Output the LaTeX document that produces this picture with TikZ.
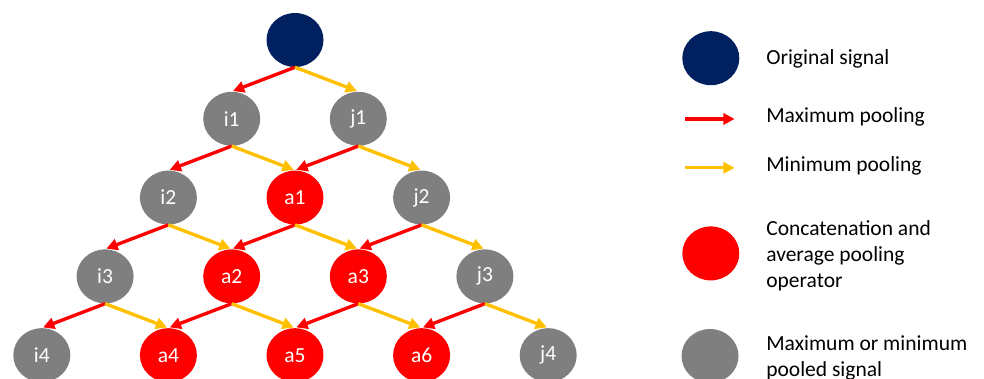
\documentclass[tikz,border=0pt]{standalone}
\usepackage{fontspec}
\setmainfont{Carlito}
\usetikzlibrary{shapes.geometric,arrows.meta}
\definecolor{navy}{HTML}{002060}
\definecolor{gold}{HTML}{FFC000}
\definecolor{midgrey}{HTML}{7F7F7F}
\begin{document}
\begin{tikzpicture}[scale=1,
  every node/.style={font=\fontsize{15.3}{18.5}\selectfont},
  sig/.style={ellipse,minimum width=1.425cm,minimum height=1.35cm,inner sep=0pt,text=white},
  orig/.style={sig,fill=navy},
  pooled/.style={sig,fill=midgrey},
  avg/.style={sig,fill=red},
  maxp/.style={->,red,line width=2.4pt,shorten >=1pt},
  minp/.style={->,gold,line width=2.4pt,shorten >=1pt},
  legtext/.style={anchor=base west,align=left,inner sep=0pt},
  >={Triangle[length=8pt,width=8pt]}]
\useasboundingbox (0,0) rectangle (24.6,9.475);
% tree of pooled signals
\node[orig] (o) at (7.375,8.475) {};
\node[pooled] (i1) at (5.7925,6.505) {i1};
\node[pooled] (j1) at (8.9575,6.505) {j1};
\node[pooled] (i2) at (4.21,4.535) {i2};
\node[avg] (a1) at (7.375,4.535) {a1};
\node[pooled] (j2) at (10.54,4.535) {j2};
\node[pooled] (i3) at (2.6275,2.565) {i3};
\node[avg] (a2) at (5.7925,2.565) {a2};
\node[avg] (a3) at (8.9575,2.565) {a3};
\node[pooled] (j3) at (12.1225,2.565) {j3};
\node[pooled] (i4) at (1.045,0.595) {i4};
\node[avg] (a4) at (4.21,0.595) {a4};
\node[avg] (a5) at (7.375,0.595) {a5};
\node[avg] (a6) at (10.54,0.595) {a6};
\node[pooled] (j4) at (13.705,0.595) {j4};
\draw[maxp] (o.south) -- (i1.north);
\draw[minp] (o.south) -- (j1.north);
\draw[maxp] (i1.south) -- (i2.north);
\draw[minp] (i1.south) -- (a1.north);
\draw[maxp] (j1.south) -- (a1.north);
\draw[minp] (j1.south) -- (j2.north);
\draw[maxp] (i2.south) -- (i3.north);
\draw[minp] (i2.south) -- (a2.north);
\draw[maxp] (a1.south) -- (a2.north);
\draw[minp] (a1.south) -- (a3.north);
\draw[maxp] (j2.south) -- (a3.north);
\draw[minp] (j2.south) -- (j3.north);
\draw[maxp] (i3.south) -- (i4.north);
\draw[minp] (i3.south) -- (a4.north);
\draw[maxp] (a2.south) -- (a4.north);
\draw[minp] (a2.south) -- (a5.north);
\draw[maxp] (a3.south) -- (a5.north);
\draw[minp] (a3.south) -- (a6.north);
\draw[maxp] (j3.south) -- (a6.north);
\draw[minp] (j3.south) -- (j4.north);
% legend
\node[orig] (lo) at (17.77,8.02) {};
\node[legtext] (to) at (19.15,7.85) {Original signal};
\coordinate (lmax1) at (17.125,6.5);
\coordinate (lmax2) at (18.4,6.5);
\draw[maxp] (lmax1) -- (lmax2);
\node[legtext] (tmax) at (19.15,6.4075) {Maximum pooling};
\coordinate (lmin1) at (17.125,5.28);
\coordinate (lmin2) at (18.4,5.28);
\draw[minp] (lmin1) -- (lmin2);
\node[legtext] (tmin) at (19.15,5.1825) {Minimum pooling};
\node[avg] (la) at (17.77,3.14) {};
\node[legtext] (ta) at (19.15,2.2875) {Concatenation and\\average pooling\\operator};
\node[pooled] (lp) at (17.75,0.575) {};
\node[legtext] (tp) at (19.15,0.0575) {Maximum or minimum\\pooled signal};
\end{tikzpicture}
\end{document}
